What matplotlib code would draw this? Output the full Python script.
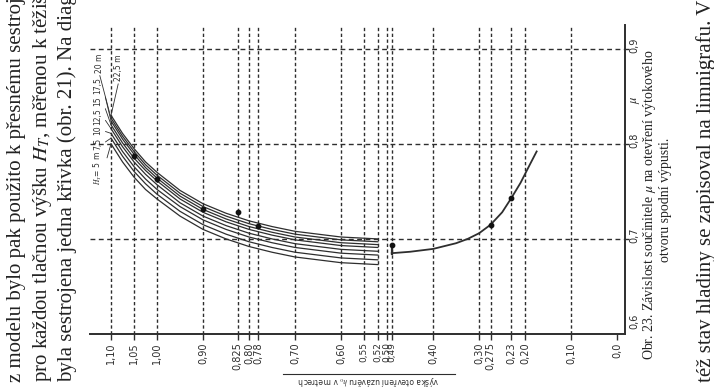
import matplotlib.pyplot as plt
from matplotlib.lines import Line2D
from matplotlib.transforms import blended_transform_factory, ScaledTranslation

plt.rcParams["font.family"] = ["DejaVu Sans"]
plt.rcParams["mathtext.fontset"] = "stix"

# gate opening h0 [m] marked on the x axis
x_ticks = [1.10, 1.05, 1.00, 0.90, 0.825, 0.80, 0.78, 0.70, 0.60, 0.55, 0.52,
           0.50, 0.49, 0.40, 0.30, 0.275, 0.23, 0.20, 0.10, 0.0]
x_tick_labels = ["1,10", "1,05", "1,00", "0,90", "0,825", "0,80", "0,78", "0,70",
                 "0,60", "0,55", "0,52", "0,50", "0,49", "0,40", "0,30", "0,275",
                 "0,23", "0,20", "0,10", "0,0"]
mu_ticks = [0.6, 0.7, 0.8, 0.9]
mu_tick_labels = ["0,6", "0,7", "0,8", "0,9"]
mu_grid = [0.7, 0.8, 0.9]

# family of curves for different heads H_T
h_open = [1.10, 1.075, 1.05, 1.025, 1.00, 0.95, 0.90, 0.85, 0.80, 0.75, 0.70,
          0.65, 0.60, 0.56, 0.52]
mu_22_5 = [0.830, 0.811, 0.795, 0.781, 0.770, 0.751, 0.737, 0.727, 0.719, 0.713,
           0.708, 0.705, 0.702, 0.701, 0.700]
mu_20 = [0.827, 0.808, 0.792, 0.778, 0.767, 0.748, 0.734, 0.724, 0.716, 0.710,
         0.705, 0.702, 0.699, 0.698, 0.697]
mu_17_5 = [0.824, 0.805, 0.789, 0.775, 0.764, 0.745, 0.731, 0.721, 0.713, 0.707,
           0.702, 0.699, 0.696, 0.695, 0.694]
mu_15 = [0.820, 0.801, 0.785, 0.772, 0.761, 0.742, 0.728, 0.718, 0.710, 0.704,
         0.699, 0.696, 0.693, 0.692, 0.691]
mu_12_5 = [0.816, 0.797, 0.781, 0.768, 0.757, 0.738, 0.724, 0.714, 0.706, 0.700,
           0.695, 0.692, 0.689, 0.688, 0.687]
mu_10 = [0.811, 0.792, 0.776, 0.763, 0.752, 0.734, 0.720, 0.710, 0.702, 0.696,
         0.691, 0.688, 0.685, 0.684, 0.683]
mu_7_5 = [0.806, 0.787, 0.771, 0.758, 0.747, 0.729, 0.715, 0.705, 0.697, 0.691,
          0.686, 0.683, 0.680, 0.679, 0.678]
mu_5 = [0.800, 0.781, 0.765, 0.752, 0.742, 0.724, 0.710, 0.700, 0.692, 0.686,
        0.681, 0.678, 0.675, 0.674, 0.673]
family = [mu_5, mu_7_5, mu_10, mu_12_5, mu_15, mu_17_5, mu_20, mu_22_5]
family_labels = ["$H_T$= 5 m", "7,5", "10", "12,5", "15", "17,5", "20 m", "22,5 m"]

# single curve for small openings
h_low = [0.49, 0.45, 0.40, 0.35, 0.325, 0.30, 0.275, 0.25, 0.23, 0.21, 0.19, 0.175]
mu_low = [0.685, 0.6865, 0.6895, 0.6955, 0.700, 0.706, 0.715, 0.728, 0.743,
          0.759, 0.778, 0.792]

# measured points
dot_h = [1.05, 1.00, 0.90, 0.825, 0.78, 0.49, 0.275, 0.23]
dot_mu = [0.787, 0.763, 0.731, 0.728, 0.714, 0.694, 0.715, 0.743]

ink = "#2e2e2e"
W, H = 714, 387
fig = plt.figure(figsize=(W / 100, H / 100), dpi=100)
fig.patch.set_facecolor("white")
ax = fig.add_axes([90 / W, 53 / H, 535 / W, 309 / H])

ax.set_xlim(1.1457, -0.017)
ax.set_ylim(0.6, 0.925)

for xv in x_ticks[:-1]:
    ax.axvline(xv, color=ink, lw=1.0, ls=(0, (2.4, 1.8)), zorder=1)
for yv in mu_grid:
    ax.axhline(yv, color=ink, lw=1.0, ls=(0, (3.5, 2.5)), zorder=1)

for mu in family:
    ax.plot(h_open, mu, color=ink, lw=0.9, zorder=3)
ax.plot(h_low, mu_low, color=ink, lw=1.3, zorder=3)
ax.plot([h_low[0], h_low[0]], [mu_low[0] - 0.001, dot_mu[5]], color=ink, lw=1.6, zorder=3)
ax.scatter(dot_h, dot_mu, s=10, color="#111111", zorder=4)

# curve labels with leader lines
left_pos = [(1.128, 0.775), (1.128, 0.800), (1.128, 0.814), (1.128, 0.829),
            (1.128, 0.845), (1.128, 0.861)]
for mu, lab, pos in zip(family[:6], family_labels[:6], left_pos):
    ax.annotate(lab, xy=(h_open[0], mu[0]), xytext=pos, rotation=90,
                ha="center", va="center", fontsize=5.5, color=ink,
                arrowprops=dict(arrowstyle="-", lw=0.6, color=ink,
                                shrinkA=0, shrinkB=0, relpos=(1, 0.5)))
for mu, lab, pos in zip(family[6:], family_labels[6:], [(1.126, 0.885), (1.083, 0.880)]):
    ax.annotate(lab, xy=(h_open[0], mu[0]), xytext=pos, rotation=90,
                ha="center", va="center", fontsize=5.5, color=ink,
                arrowprops=dict(arrowstyle="-", lw=0.6, color=ink,
                                shrinkA=0, shrinkB=0, relpos=(0.5, 0)))

for side in ["left", "top"]:
    ax.spines[side].set_visible(False)
for side in ["bottom", "right"]:
    ax.spines[side].set_color(ink)
    ax.spines[side].set_linewidth(1.4)

ax.set_xticks(x_ticks)
ax.set_xticklabels(x_tick_labels, rotation=90, fontsize=7, color=ink, va="top")
xlabs = ax.get_xticklabels()
for lab in xlabs[9:13]:
    lab.set_fontsize(6.5)
# spread the crowded 0,50 / 0,49 labels a little
for lab, dx in [(xlabs[11], -1.5), (xlabs[12], 1.5)]:
    lab.set_transform(lab.get_transform() + ScaledTranslation(dx / 100, 0, fig.dpi_scale_trans))
ax.tick_params(axis="x", length=4, width=1, color=ink, pad=2)
ax.yaxis.tick_right()
ax.set_yticks(mu_grid)
ax.set_yticklabels([])
ax.tick_params(axis="y", length=3, width=1, color=ink)

tr = blended_transform_factory(ax.transAxes, ax.transData)
for yv, lab in zip(mu_ticks, mu_tick_labels):
    ax.text(1.008, yv + (0.013 if yv == 0.6 else 0.004), lab, transform=tr,
            rotation=90, ha="left", va="center", fontsize=7, color=ink)
ax.text(1.008, 0.846, "$\\mu$", transform=tr, rotation=90, ha="left",
        va="center", fontsize=9, color=ink)

# x axis title (printed upside down in the original)
fig.text(368 / W, 1 - 381 / H, "výška otevření uzávěru $h_0$ v metrech",
         rotation=180, ha="center", va="center", fontsize=5.5, color=ink)
fig.add_artist(Line2D([283 / W, 455 / W], [1 - 374 / H, 1 - 374 / H],
                      color=ink, lw=0.8))

# surrounding page text
serif = ["Liberation Serif", "DejaVu Serif"]
body = ["z modelu bylo pak použito k přesnému sestrojení",
        "pro každou tlačnou výšku $H_T$, měřenou k těžišti",
        "byla sestrojena jedna křivka (obr. 21). Na diagramu"]
for xpix, line in zip([17, 42, 67], body):
    fig.text(xpix / W, 1 - 382 / H, line, rotation=90, rotation_mode="anchor",
             ha="left", va="center", fontsize=15, family=serif, color="#222222")

fig.text(650 / W, 1 - 205 / H,
         "Obr. 23. Závislost součinitele $\\mu$ na otevření výtokového",
         rotation=90, ha="center", va="center", fontsize=10, family=serif,
         color="#222222")
fig.text(665 / W, 1 - 200 / H, "otvoru spodní výpusti.", rotation=90,
         ha="center", va="center", fontsize=10, family=serif, color="#222222")
fig.text(706 / W, 1 - 382 / H, "též stav hladiny se zapisoval na limnigrafu. V",
         rotation=90, rotation_mode="anchor", ha="left", va="center",
         fontsize=15, family=serif, color="#222222")

fig.savefig("out.png", dpi=100)
